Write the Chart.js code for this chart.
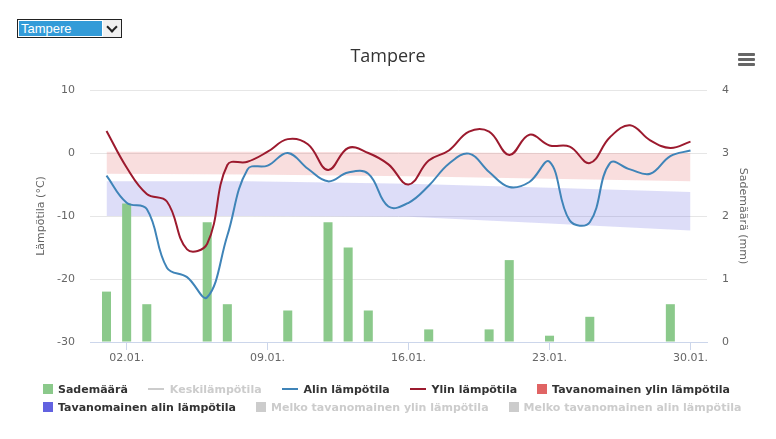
<!DOCTYPE html>
<html>
<head>
<meta charset="utf-8">
<title>Tampere</title>
<script src="https://cdn.jsdelivr.net/npm/chart.js@4.4.1/dist/chart.umd.min.js"></script>
<style>
  html, body { margin: 0; padding: 0; background: #fff; }
  #wrap { position: relative; width: 776px; height: 439px; overflow: hidden; }
  #chartBox { position: absolute; left: 0; top: 0; width: 776px; height: 439px; }

  #citySelect { position: absolute; left: 17px; top: 19px; width: 103px; height: 17px;
    border: 1px solid #222; background: #fff; font: 13px "Liberation Sans", Arial, sans-serif; }
  #citySelect .val { position: absolute; left: 1px; top: 1px; width: 81px; height: 15px;
    padding-left: 2px; line-height: 15px; background: #339bd8; color: #fff; }
  #citySelect .arrow { position: absolute; right: 0; top: 0; width: 18px; height: 17px; background: #f0f0f0; }
  #citySelect .arrow::after { content: ""; position: absolute; left: 5px; top: 3px; width: 6px; height: 6px;
    border-right: 2px solid #222; border-bottom: 2px solid #222; transform: rotate(45deg); }

  #menuIcon { position: absolute; left: 738px; top: 53px; width: 17px; }
  #menuIcon div { height: 3px; background: #666; margin-bottom: 2px; border-radius: 1px; }

  #legend { position: absolute; left: 43px; top: 382px; width: 712px; display: flex; flex-wrap: wrap;
    column-gap: 20px; row-gap: 4px; font: bold 11px "DejaVu Sans", sans-serif; color: #333; }
  #legend .item { display: flex; align-items: center; height: 14px; white-space: nowrap; }
  #legend .rect { width: 10px; height: 10px; margin-right: 5px; }
  #legend .line { width: 16px; height: 2px; margin-right: 6px; }
</style>
</head>
<body>
<div id="wrap">
  <div id="chartBox"><canvas id="weatherChart"></canvas></div>
  <div id="citySelect"><span class="val">Tampere</span><span class="arrow"></span></div>
  <div id="menuIcon"><div></div><div></div><div></div></div>
  <div id="legend"></div>
</div>
<script>
// January, one value per day
const days = [1, 2, 3, 4, 5, 6, 7, 8, 9, 10, 11, 12, 13, 14, 15,
              16, 17, 18, 19, 20, 21, 22, 23, 24, 25, 26, 27, 28, 29, 30];
const tickDays = [2, 9, 16, 23, 30];
const tickLabels = ['02.01.', '09.01.', '16.01.', '23.01.', '30.01.'];

const rain = [0.8, 2.2, 0.6, 0, 0, 1.9, 0.6, 0, 0, 0.5, 0, 1.9, 1.5, 0.5, 0,
              0, 0.2, 0, 0, 0.2, 1.3, 0, 0.1, 0, 0.4, 0, 0, 0, 0.6, 0];
const minTemp = [-3.6, -7.9, -8.9, -18.2, -19.7, -22.9, -13.1, -2.6, -2.0, 0.0, -2.5, -4.5, -3.1, -3.3, -8.5,
                 -7.9, -5.2, -1.7, -0.1, -3.0, -5.4, -4.6, -1.4, -10.7, -11.0, -1.6, -2.6, -3.3, -0.5, 0.4];
const maxTemp = [3.5, -2.3, -6.5, -7.7, -15.3, -14.4, -1.9, -1.4, 0.2, 2.2, 1.4, -2.7, 0.8, 0.0, -1.8,
                 -5.0, -1.2, 0.4, 3.4, 3.4, -0.3, 2.9, 1.2, 1.0, -1.6, 2.5, 4.4, 2.0, 0.8, 1.8];

// normal ranges (read at a few days, straight edges)
const normDays = [1, 8, 16, 23, 30];
const normMaxHigh = [0.2, 0.2, 0.1, 0.0, 0.0];
const normMaxLow = [-3.3, -3.4, -3.7, -4.1, -4.5];
const normMinHigh = [-4.5, -4.5, -4.9, -5.5, -6.2];
const normMinLow = [-10.0, -10.0, -10.1, -11.2, -12.3];

const pts = (xs, ys) => xs.map((x, i) => ({ x: x, y: ys[i] }));

const GREEN = '#8bc98b';
const BLUE = '#3f84b8';
const RED = '#9c1a2e';
const GREY = '#cccccc';
const tickFont = { family: '"DejaVu Sans", sans-serif', size: 11 };

const ctx = document.getElementById('weatherChart').getContext('2d');
const chart = new Chart(ctx, {
  data: {
    datasets: [
      { type: 'bar', label: 'Sademäärä', data: pts(days, rain), yAxisID: 'y1',
        backgroundColor: GREEN, borderWidth: 0, barPercentage: 0.56, categoryPercentage: 0.8,
        order: 2, legendSymbol: 'rect', legendColor: GREEN },
      { type: 'line', label: 'Keskilämpötila', data: [], hidden: true, yAxisID: 'y',
        borderColor: GREY, order: 1, legendSymbol: 'line', legendColor: GREY, legendOff: true },
      { type: 'line', label: 'Alin lämpötila', data: pts(days, minTemp), yAxisID: 'y',
        borderColor: BLUE, borderWidth: 2, pointRadius: 0, tension: 0.4, fill: false,
        order: 1, legendSymbol: 'line', legendColor: BLUE },
      { type: 'line', label: 'Ylin lämpötila', data: pts(days, maxTemp), yAxisID: 'y',
        borderColor: RED, borderWidth: 2, pointRadius: 0, tension: 0.4, fill: false,
        order: 1, legendSymbol: 'line', legendColor: RED },
      { type: 'line', label: 'normMaxLow', data: pts(normDays, normMaxLow), yAxisID: 'y',
        borderWidth: 0, pointRadius: 0, fill: false, order: 3 },
      { type: 'line', label: 'Tavanomainen ylin lämpötila', data: pts(normDays, normMaxHigh), yAxisID: 'y',
        borderWidth: 0, pointRadius: 0, fill: '-1', backgroundColor: 'rgba(224, 90, 90, 0.2)',
        order: 3, legendSymbol: 'rect', legendColor: '#e06464' },
      { type: 'line', label: 'normMinLow', data: pts(normDays, normMinLow), yAxisID: 'y',
        borderWidth: 0, pointRadius: 0, fill: false, order: 3 },
      { type: 'line', label: 'Tavanomainen alin lämpötila', data: pts(normDays, normMinHigh), yAxisID: 'y',
        borderWidth: 0, pointRadius: 0, fill: '-1', backgroundColor: 'rgba(100, 100, 225, 0.22)',
        order: 3, legendSymbol: 'rect', legendColor: '#6262e0' },
      { type: 'line', label: 'Melko tavanomainen ylin lämpötila', data: [], hidden: true, yAxisID: 'y',
        order: 3, legendSymbol: 'rect', legendColor: GREY, legendOff: true },
      { type: 'line', label: 'Melko tavanomainen alin lämpötila', data: [], hidden: true, yAxisID: 'y',
        order: 3, legendSymbol: 'rect', legendColor: GREY, legendOff: true }
    ]
  },
  options: {
    responsive: true,
    maintainAspectRatio: false,
    animation: false,
    layout: { padding: { top: 0, left: 0, right: 0, bottom: 67 } },
    plugins: {
      legend: { display: false },
      tooltip: { enabled: false },
      title: {
        display: true, text: 'Tampere', color: '#333333',
        font: { family: '"Open Sans", sans-serif', size: 18, weight: 'normal' },
        padding: { top: 46, bottom: 22.4 }
      }
    },
    scales: {
      x: {
        type: 'linear', min: 0.18, max: 30.82, offset: false,
        afterBuildTicks: (s) => { s.ticks = tickDays.map((d) => ({ value: d })); },
        afterFit: (s) => { s.height = 30; },
        ticks: {
          autoSkip: false, maxRotation: 0, padding: 2, color: '#666666', font: tickFont,
          callback: (v) => { const i = tickDays.indexOf(v); return i >= 0 ? tickLabels[i] : ''; }
        },
        grid: { offset: false, drawOnChartArea: false, drawTicks: true, tickLength: 8, color: '#ccd6eb' },
        border: { display: true, color: '#ccd6eb' }
      },
      y: {
        position: 'left', min: -30, max: 10,
        afterFit: (s) => { s.width = 90; },
        ticks: { stepSize: 10, padding: 15, color: '#666666', font: tickFont },
        grid: { color: '#e6e6e6', drawTicks: false },
        border: { display: false },
        title: { display: true, text: 'Lämpötila (°C)', color: '#666666', font: tickFont,
                 padding: { top: 35, bottom: 0 } }
      },
      y1: {
        position: 'right', min: 0, max: 4,
        afterFit: (s) => { s.width = 69; },
        ticks: { stepSize: 1, padding: 15, color: '#666666', font: tickFont },
        grid: { drawOnChartArea: false, drawTicks: false },
        border: { display: false },
        title: { display: true, text: 'Sademäärä (mm)', color: '#666666', font: tickFont,
                 padding: { top: 27, bottom: 0 } }
      }
    }
  }
});

// legend in html, Highcharts-style rows
const legendEl = document.getElementById('legend');
chart.data.datasets.filter((ds) => ds.legendSymbol).forEach((ds) => {
  const item = document.createElement('div');
  item.className = 'item';
  const sym = document.createElement('span');
  sym.className = ds.legendSymbol;
  sym.style.background = ds.legendColor;
  const txt = document.createElement('span');
  txt.textContent = ds.label;
  if (ds.legendOff) txt.style.color = GREY;
  item.appendChild(sym);
  item.appendChild(txt);
  legendEl.appendChild(item);
});
</script>
</body>
</html>
